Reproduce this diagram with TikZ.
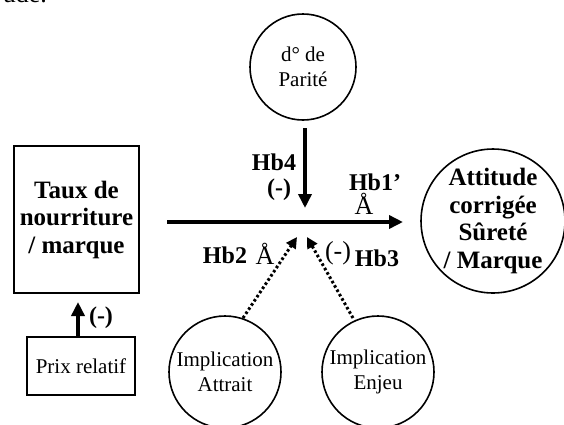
\documentclass[tikz,border=0pt]{standalone}
\usepackage{fontspec}
\setmainfont{Liberation Serif}
\usetikzlibrary{arrows.meta}
\begin{document}
\begin{tikzpicture}[x=1pt,y=-1pt,
  boldtxt/.style={font=\fontsize{25}{27.5}\selectfont\bfseries, align=center},
  regtxt/.style={font=\fontsize{21}{25}\selectfont, align=center},
  lbl/.style={font=\fontsize{24}{28}\selectfont\bfseries, inner sep=0pt},
  sign/.style={font=\fontsize{26}{30}\selectfont, inner sep=0pt},
  mainarrow/.style={line width=4pt, -{Triangle[length=14pt,width=13pt]}},
  dotarrow/.style={line width=3pt, dash pattern=on 2.6pt off 2.4pt, -{Triangle[length=11pt,width=11pt]}},
  circ/.style={draw, line width=1.6pt, circle, inner sep=0pt},
  rect/.style={draw, line width=1.8pt, rectangle, inner sep=0pt},
]
\useasboundingbox (0,0) rectangle (564,424);
\clip (0,0) rectangle (564,424);

% end of the preceding line of running text
\node[font=\fontsize{26}{30}\selectfont, anchor=base east, inner sep=0pt] (runin) at (47,2) {ude.};

% nodes
\node[circ, minimum size=106pt, regtxt] (parite) at (303,67) {d° de\\Parité};
\node[rect, minimum width=125pt, minimum height=147pt, boldtxt] (taux) at (76.5,219.5) {Taux de\\nourriture\\/ marque};
\node[rect, minimum width=108pt, minimum height=58pt, regtxt] (prix) at (81,366) {Prix relatif};
\node[circ, minimum size=140pt, boldtxt] (attitude) at (493,221) {Attitude\\corrigée\\Sûreté\\/ Marque};
\node[circ, minimum size=112pt, regtxt] (attrait) at (225,372) {Implication\\Attrait};
\node[circ, minimum size=112pt, regtxt] (enjeu) at (378,372) {Implication\\Enjeu};

% arrow end points
\coordinate (hs) at (167,222);
\coordinate (he) at (403,222);
\coordinate (vs) at (305,128);
\coordinate (ve) at (305,208);
\coordinate (ps) at (78,337);
\coordinate (pe) at (78,302);
\coordinate (as) at (243,318);
\coordinate (ae) at (297,237);
\coordinate (es) at (353,318);
\coordinate (ee) at (307,237);

% connectors
\draw[mainarrow] (hs) -- (he);
\draw[mainarrow] (vs) -- (ve);
\draw[mainarrow] (ps) -- (pe);
\draw[dotarrow] (as) -- (ae);
\draw[dotarrow] (es) -- (ee);

% labels
\node[lbl] (hb4) at (274,162) {Hb4};
\node[lbl] (m4) at (279,190) {(-)};
\node[lbl] (hb1) at (375,182) {Hb1’};
\node[sign] (a1) at (364,204) {Å};
\node[lbl] (hb2) at (225,255) {Hb2};
\node[sign] (a2) at (265,254) {Å};
\node[sign] (m3) at (338,253) {(-)};
\node[lbl] (hb3) at (377,258) {Hb3};
\node[lbl] (mp) at (101,318) {(-)};
\end{tikzpicture}
\end{document}
